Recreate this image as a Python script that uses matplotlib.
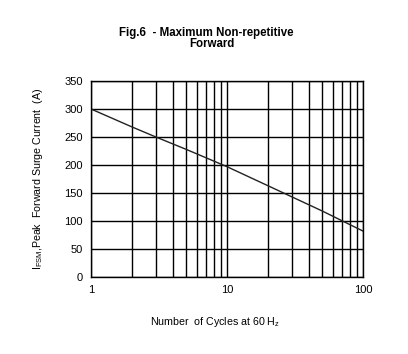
import matplotlib
matplotlib.use("Agg")
import matplotlib.pyplot as plt
import numpy as np
from matplotlib.ticker import FixedLocator, NullFormatter

plt.rcParams['font.family'] = ['Liberation Sans', 'DejaVu Sans']

cycles = [1, 2, 3, 5, 10, 20, 50, 100]
current = [300, 268, 250, 228, 197, 163, 118, 82]
xticks = [1, 10, 100]
xticklabels = ['1', '10', '100']
yticks = [0, 50, 100, 150, 200, 250, 300, 350]

fig = plt.figure(figsize=(4.08, 3.54), dpi=100)
ax = fig.add_axes([91/408, 1-277/354, (363-91)/408, (277-81)/354])
ax.set_xscale('log')
ax.set_xlim(1, 100)
ax.set_ylim(0, 350)

ax.plot(cycles, current, color='#222222', lw=1.0)

minor = [m * d for d in (1, 10) for m in range(2, 10)]
ax.xaxis.set_major_locator(FixedLocator(xticks))
ax.set_xticklabels(xticklabels)
ax.xaxis.set_minor_locator(FixedLocator(minor))
ax.xaxis.set_minor_formatter(NullFormatter())
ax.set_yticks(yticks)
ax.grid(True, which='both', axis='x', color='black', lw=1.0)
ax.grid(True, which='major', axis='y', color='black', lw=1.0)
ax.tick_params(which='both', length=0, labelsize=8, pad=6)
for s in ax.spines.values():
    s.set_linewidth(1.0)

fig.text(206/408, 1-33/354, 'Fig.6  - Maximum Non-repetitive', ha='center', va='center',
         fontsize=8.3, fontweight='bold')
fig.text(212/408, 1-44/354, 'Forward', ha='center', va='center', fontsize=8.3, fontweight='bold')

fig.text(38/408, 1-179/354, r'I$_{\mathregular{FSM}}$,Peak  Forward Surge Current  (A)',
         rotation=90, ha='center', va='center', fontsize=7.7)
fig.text(215/408, 1-322/354, r'Number  of Cycles at 60 H$_{\mathregular{z}}$',
         ha='center', va='center', fontsize=7.7)

fig.savefig('out.png', dpi=100)
